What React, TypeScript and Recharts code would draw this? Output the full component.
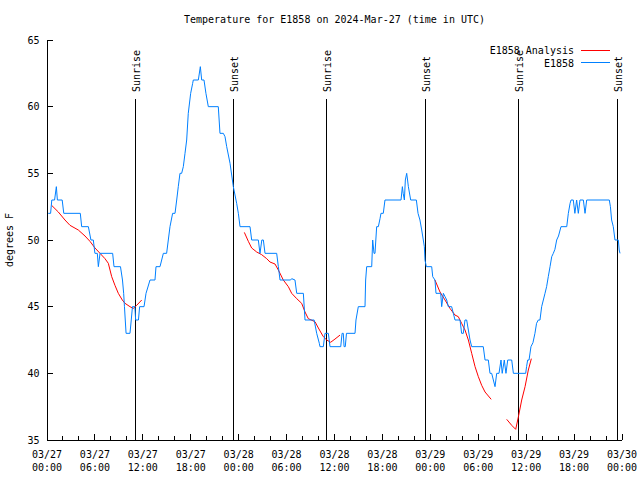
import React from 'react';
import { LineChart, Line, XAxis, YAxis, ReferenceLine, Legend } from 'recharts';

const FONT = '"DejaVu Sans Mono", "Liberation Mono", monospace';

// hours since 2024-03-27 00:00 UTC -> degrees F
const e1858: [number, number][] = [
  [0.15, 52], [0.45, 52], [0.6, 53], [0.95, 53], [1.17, 54], [1.3, 53], [1.9, 53], [2.1, 52],
  [4.17, 52], [4.34, 51], [5.18, 51], [5.5, 50], [5.8, 50], [6.0, 49], [6.3, 49], [6.43, 48],
  [6.64, 49], [8.22, 49], [8.39, 48], [9.2, 48], [9.45, 47], [9.6, 46], [9.7, 45], [9.8, 44],
  [9.9, 43], [10.39, 43], [10.55, 44], [10.7, 45], [11.0, 45], [11.1, 44], [11.45, 44], [11.6, 45],
  [12.15, 45], [12.4, 46], [12.9, 47], [13.52, 47], [13.65, 48], [14.15, 48], [14.36, 48.5],
  [14.57, 49], [14.98, 49], [15.19, 50], [15.4, 51], [15.73, 52], [16.03, 52], [16.24, 53],
  [16.44, 54], [16.65, 55], [16.86, 55], [17.07, 55.5], [17.28, 56.5], [17.49, 57.5], [17.69, 59.5],
  [17.99, 61], [18.24, 61.75], [18.32, 62], [18.95, 62], [19.2, 63], [19.37, 62], [19.66, 62],
  [19.9, 61], [20.2, 60], [21.45, 60], [21.66, 58], [22.08, 58], [22.29, 57.75], [22.5, 57],
  [22.92, 55.75], [23.33, 54], [23.75, 52.75], [23.96, 52], [24.17, 51], [25.42, 51], [25.63, 50],
  [26.46, 50], [26.67, 49], [26.9, 50], [27.09, 50], [27.3, 49], [28.76, 49], [28.97, 48],
  [29.18, 47], [30.5, 47], [30.64, 47.1], [31.05, 47], [31.27, 46], [32.1, 46], [32.31, 44],
  [33.45, 44], [33.77, 43], [34.1, 42.25], [34.18, 42], [34.6, 42], [34.81, 43], [35.23, 43],
  [35.44, 42], [36.78, 42], [36.95, 43], [37.1, 43], [37.2, 42], [37.35, 42], [37.5, 43],
  [38.57, 43], [38.69, 44], [38.98, 45], [39.82, 45], [39.9, 47], [40.03, 48], [40.66, 48],
  [40.78, 50], [40.95, 49], [41.07, 49], [41.28, 51], [41.49, 51], [41.7, 51.6], [41.82, 52],
  [42.11, 52], [42.32, 53], [44.33, 53], [44.5, 54], [44.6, 53.5], [44.75, 53], [44.87, 54.5],
  [45.04, 55], [45.15, 54.5], [45.25, 54], [45.54, 53], [46.25, 53], [46.46, 52], [46.7, 51.5],
  [46.92, 50.75], [47.12, 50], [47.25, 49.5], [47.33, 48.5], [47.5, 48], [48.17, 48], [48.3, 47.25],
  [48.58, 47], [48.71, 46], [49.3, 46], [49.42, 45], [49.63, 46], [49.84, 45.75], [50.05, 45.5],
  [50.25, 45], [50.67, 45], [50.88, 44.5], [51.09, 44], [51.72, 44], [51.92, 43], [52.13, 43],
  [52.34, 44], [52.55, 44], [52.76, 43.25], [52.97, 42.5], [53.18, 42], [54.63, 42], [54.85, 41],
  [55.26, 41], [55.47, 40], [55.68, 40], [56.1, 39], [56.31, 40], [56.6, 40], [56.85, 41],
  [57.0, 40], [57.26, 41], [57.47, 40], [57.69, 41], [58.19, 41], [58.4, 40], [59.94, 40],
  [60.05, 40.5], [60.19, 41], [60.36, 41], [60.6, 42], [60.85, 42.3], [61.1, 43], [61.3, 43.75],
  [61.52, 44], [61.73, 44], [61.94, 45], [62.15, 45.5], [62.36, 46], [62.56, 46.5], [62.77, 47.25],
  [62.99, 48], [63.2, 48.75], [63.4, 49], [63.6, 49.3], [63.82, 50], [64.05, 50.3], [64.36, 51],
  [65.08, 51], [65.28, 52], [65.5, 52.75], [65.62, 53], [65.9, 53], [66.1, 52], [66.32, 53],
  [66.53, 52], [66.74, 53], [67.16, 53], [67.37, 52], [67.58, 53], [70.41, 53], [70.55, 52.5],
  [70.7, 51.5], [70.91, 51], [71.12, 50], [71.54, 50], [71.65, 49.25], [71.75, 49],
];

// analysis curve, drawn in separate pieces
const analysisA: [number, number][] = [
  [0.58, 52.6], [1.42, 52.1], [2.25, 51.5], [2.88, 51.1], [3.92, 50.75], [4.76, 50.3],
  [5.38, 49.9], [6.01, 49.4], [6.64, 49.0], [7.26, 48.6], [7.68, 48.25], [8.1, 47.25],
  [8.51, 46.6], [8.93, 46.0], [9.43, 45.5], [9.77, 45.25], [10.39, 45.0], [10.8, 44.87],
  [11.23, 45.1], [11.86, 45.5],
];
const analysisB: [number, number][] = [
  [24.71, 50.57], [25.21, 49.9], [25.63, 49.4], [26.26, 49.1], [26.88, 48.9], [27.51, 48.6],
  [27.92, 48.35], [28.55, 48.2], [28.97, 47.75], [29.59, 47.0], [30.22, 46.5], [30.64, 46.0],
  [31.27, 45.6], [31.89, 45.25], [32.31, 44.6], [32.72, 44.1], [33.56, 43.87], [33.98, 43.4],
  [34.6, 42.75], [35.02, 42.5], [35.52, 42.33], [36.06, 42.57], [36.69, 42.87],
];
const analysisC: [number, number][] = [
  [48.58, 47.0], [49.21, 46.1], [49.84, 45.5], [50.46, 44.87], [51.09, 44.37], [51.5, 44.25],
  [51.92, 43.75], [52.34, 43.25], [52.76, 42.5], [53.18, 41.5], [53.6, 40.5], [54.01, 39.75],
  [54.43, 39.1], [54.85, 38.6], [55.62, 38.05],
];
const analysisD: [number, number][] = [
  [57.56, 36.55], [58.19, 36.1], [58.69, 35.8], [59.03, 36.75], [59.44, 38.0], [59.86, 39.0],
  [60.27, 40.25], [60.65, 41.1],
];

const sunHours = [11.02, 23.3, 34.95, 47.35, 58.98, 71.42];
const sunLabels = ['Sunrise', 'Sunset', 'Sunrise', 'Sunset', 'Sunrise', 'Sunset'];

const hourTicks = Array.from({ length: 37 }, (_, i) => i * 2);
const majorHours = [0, 6, 12, 18, 24, 30, 36, 42, 48, 54, 60, 66, 72];
const majorDates = ['03/27', '03/27', '03/27', '03/27', '03/28', '03/28', '03/28', '03/28', '03/29', '03/29', '03/29', '03/29', '03/30'];
const majorTimes = ['00:00', '06:00', '12:00', '18:00', '00:00', '06:00', '12:00', '18:00', '00:00', '06:00', '12:00', '18:00', '00:00'];
const tempTicks = [35, 40, 45, 50, 55, 60, 65];
const legendOrder = ['E1858 Analysis', 'E1858'];

const measured = e1858.map(([h, v]) => ({ h, v }));
const analysis = [analysisA, analysisB, analysisC, analysisD].flatMap((seg, i) => [
  ...(i > 0 ? [{ h: seg[0][0] - 0.01, v: null as number | null }] : []),
  ...seg.map(([h, v]) => ({ h, v: v as number | null })),
]);

const textStyle = { fontFamily: FONT, fontSize: 10, fill: '#000' };

const BottomTick = (props: any) => {
  const { x, y, payload } = props;
  const idx = majorHours.indexOf(payload.value);
  const major = idx >= 0;
  return (
    <g>
      <line x1={x} y1={y} x2={x} y2={y - (major ? 6 : 4)} stroke="#000" shapeRendering="crispEdges" />
      {major && (
        <>
          <text x={x} y={y + 17.5} textAnchor="middle" {...textStyle}>{majorDates[idx]}</text>
          <text x={x} y={y + 30.5} textAnchor="middle" {...textStyle}>{majorTimes[idx]}</text>
        </>
      )}
    </g>
  );
};

const TopTick = (props: any) => {
  const { x, y, payload } = props;
  const major = majorHours.includes(payload.value);
  return <line x1={x} y1={y} x2={x} y2={y + (major ? 6 : 4)} stroke="#000" shapeRendering="crispEdges" />;
};

const LeftTick = (props: any) => {
  const { x, y, payload } = props;
  return (
    <g>
      <line x1={x} y1={y} x2={x + 6} y2={y} stroke="#000" shapeRendering="crispEdges" />
      <text x={x - 7.5} y={y + 3.5} textAnchor="end" {...textStyle}>{payload.value}</text>
    </g>
  );
};

const RightTick = (props: any) => {
  const { x, y } = props;
  return <line x1={x} y1={y} x2={x - 6} y2={y} stroke="#000" shapeRendering="crispEdges" />;
};

const sunShape = (label: string) => (p: any) => {
  const top = Math.min(p.y1, p.y2);
  const bottom = Math.max(p.y1, p.y2);
  return (
    <g>
      <line x1={p.x1} x2={p.x1} y1={top + 59} y2={bottom} stroke="#000" strokeWidth={1} shapeRendering="crispEdges" />
      <text transform={`translate(${p.x1 + 5},${top + 52}) rotate(-90)`} {...textStyle}>{label}</text>
    </g>
  );
};

const renderLegend = ({ payload }: any) => {
  const items = [...(payload || [])].sort(
    (a: any, b: any) => legendOrder.indexOf(a.value) - legendOrder.indexOf(b.value)
  );
  return (
    <svg width={640} height={30} style={{ display: 'block' }}>
      {items.map((p: any, i: number) => (
        <g key={p.value}>
          <text x={574} y={11 + i * 12.5} textAnchor="end" {...textStyle}>{p.value}</text>
          <line x1={581} x2={610} y1={7 + i * 12.5} y2={7 + i * 12.5} stroke={p.color} shapeRendering="crispEdges" />
        </g>
      ))}
    </svg>
  );
};

export default function App() {
  return (
    <div style={{ position: 'absolute', left: 0, top: 0, width: 640, height: 480, background: '#fff' }}>
      <LineChart width={640} height={480} margin={{ top: 40, right: 18, bottom: 0, left: 0 }}>
        <XAxis
          dataKey="h"
          type="number"
          domain={[0, 72]}
          allowDataOverflow
          ticks={hourTicks}
          interval={0}
          height={40}
          tickSize={0}
          tickMargin={0}
          tick={<BottomTick />}
          axisLine={{ stroke: '#000', shapeRendering: 'crispEdges' }}
        />
        <XAxis
          xAxisId="top"
          orientation="top"
          dataKey="h"
          type="number"
          domain={[0, 72]}
          allowDataOverflow
          ticks={hourTicks}
          interval={0}
          height={0}
          tickSize={0}
          tickMargin={0}
          tick={<TopTick />}
          axisLine={{ stroke: '#000', shapeRendering: 'crispEdges' }}
        />
        <YAxis
          type="number"
          domain={[35, 65]}
          allowDataOverflow
          ticks={tempTicks}
          interval={0}
          width={47}
          tickSize={0}
          tickMargin={0}
          tick={<LeftTick />}
          axisLine={{ stroke: '#000', shapeRendering: 'crispEdges' }}
          label={({ viewBox }: any) => (
            <text
              transform={`translate(13,${viewBox.y + viewBox.height / 2}) rotate(-90)`}
              textAnchor="middle"
              {...textStyle}
            >
              degrees F
            </text>
          )}
        />
        <YAxis
          yAxisId="right"
          orientation="right"
          type="number"
          domain={[35, 65]}
          allowDataOverflow
          ticks={tempTicks}
          interval={0}
          width={0}
          tickSize={0}
          tickMargin={0}
          tick={<RightTick />}
          axisLine={{ stroke: '#000', shapeRendering: 'crispEdges' }}
        />
        {sunHours.map((h, i) => (
          <ReferenceLine key={i} x={h} stroke="#000" shape={sunShape(sunLabels[i])} />
        ))}
        <Legend
          layout="vertical"
          align="center"
          verticalAlign="middle"
          wrapperStyle={{ position: 'absolute', top: 43, left: 0, width: 640, height: 30 }}
          content={renderLegend}
        />
        <Line
          data={analysis}
          dataKey="v"
          name="E1858 Analysis"
          type="linear"
          stroke="#ff0000"
          strokeWidth={1}
          dot={false}
          activeDot={false}
          connectNulls={false}
          isAnimationActive={false}
        />
        <Line
          data={measured}
          dataKey="v"
          name="E1858"
          type="linear"
          stroke="#0080ff"
          strokeWidth={1}
          dot={false}
          activeDot={false}
          isAnimationActive={false}
        />
      </LineChart>
      <svg width={640} height={30} style={{ position: 'absolute', left: 0, top: 0 }}>
        <text x={334.5} y={22.5} textAnchor="middle" {...textStyle}>
          Temperature for E1858 on 2024-Mar-27 (time in UTC)
        </text>
      </svg>
    </div>
  );
}
